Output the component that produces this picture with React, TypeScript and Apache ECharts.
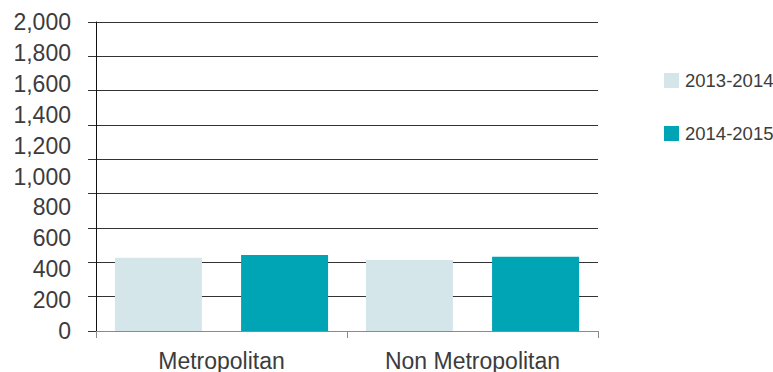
import React, { useEffect, useRef } from "react";
import * as echarts from "echarts";

const categories = ["Metropolitan", "Non Metropolitan"];
const seriesNames = ["2013-2014", "2014-2015"];
const values2013 = [426, 413];
const values2014 = [442, 432];
const gridMax = 1800;
const labelMax = 2000;
const step = 200;

const FONT = "'Liberation Sans', Arial, sans-serif";
const TEXT = "#3c3c3c";

export default function App() {
  const ref = useRef<HTMLDivElement>(null);

  useEffect(() => {
    if (!ref.current) return;
    const chart = echarts.init(ref.current, null, { renderer: "svg" });
    chart.setOption({
      animation: false,
      textStyle: { fontFamily: FONT },
      grid: { left: 96, right: 175, top: 22, bottom: 41, containLabel: false },
      legend: {
        orient: "vertical",
        left: 659,
        top: 66,
        itemWidth: 15,
        itemHeight: 15,
        itemGap: 34,
        icon: "rect",
        textStyle: {
          fontFamily: FONT,
          fontSize: 18.5,
          color: TEXT,
          lineHeight: 15,
          padding: [0, 0, 0, 1],
        },
        data: seriesNames,
      },
      xAxis: {
        type: "category",
        data: categories,
        axisLine: { show: true, lineStyle: { color: "#8a8a8a", width: 1 } },
        axisTick: { show: true, length: 7, lineStyle: { color: "#8a8a8a" } },
        axisLabel: { fontSize: 23, color: TEXT, margin: 18, fontFamily: FONT },
        splitLine: { show: false },
      },
      yAxis: [
        {
          type: "value",
          min: 0,
          max: gridMax,
          interval: step,
          position: "left",
          axisLine: { show: true, lineStyle: { color: "#111", width: 1 } },
          axisTick: { show: true, length: 8, lineStyle: { color: "#333" } },
          axisLabel: { show: false },
          splitLine: { show: true, lineStyle: { color: "#333", width: 1 } },
        },
        {
          type: "value",
          min: 0,
          max: labelMax,
          interval: step,
          position: "left",
          offset: 0,
          axisLine: { show: false },
          axisTick: { show: false },
          splitLine: { show: false },
          axisLabel: {
            fontSize: 23,
            color: TEXT,
            margin: 25,
            fontFamily: FONT,
            formatter: (v: number) => v.toLocaleString("en-US"),
          },
        },
      ],
      series: [
        {
          name: seriesNames[0],
          type: "bar",
          yAxisIndex: 0,
          data: values2013,
          barWidth: 87,
          barGap: "45%",
          itemStyle: { color: "#d5e6eb" },
        },
        {
          name: seriesNames[1],
          type: "bar",
          yAxisIndex: 0,
          data: values2014,
          barWidth: 87,
          barGap: "45%",
          itemStyle: { color: "#00a5b5" },
        },
      ],
    });
    return () => chart.dispose();
  }, []);

  return (
    <div
      ref={ref}
      style={{ position: "absolute", left: 0, top: 0, width: 773, height: 372 }}
    />
  );
}
